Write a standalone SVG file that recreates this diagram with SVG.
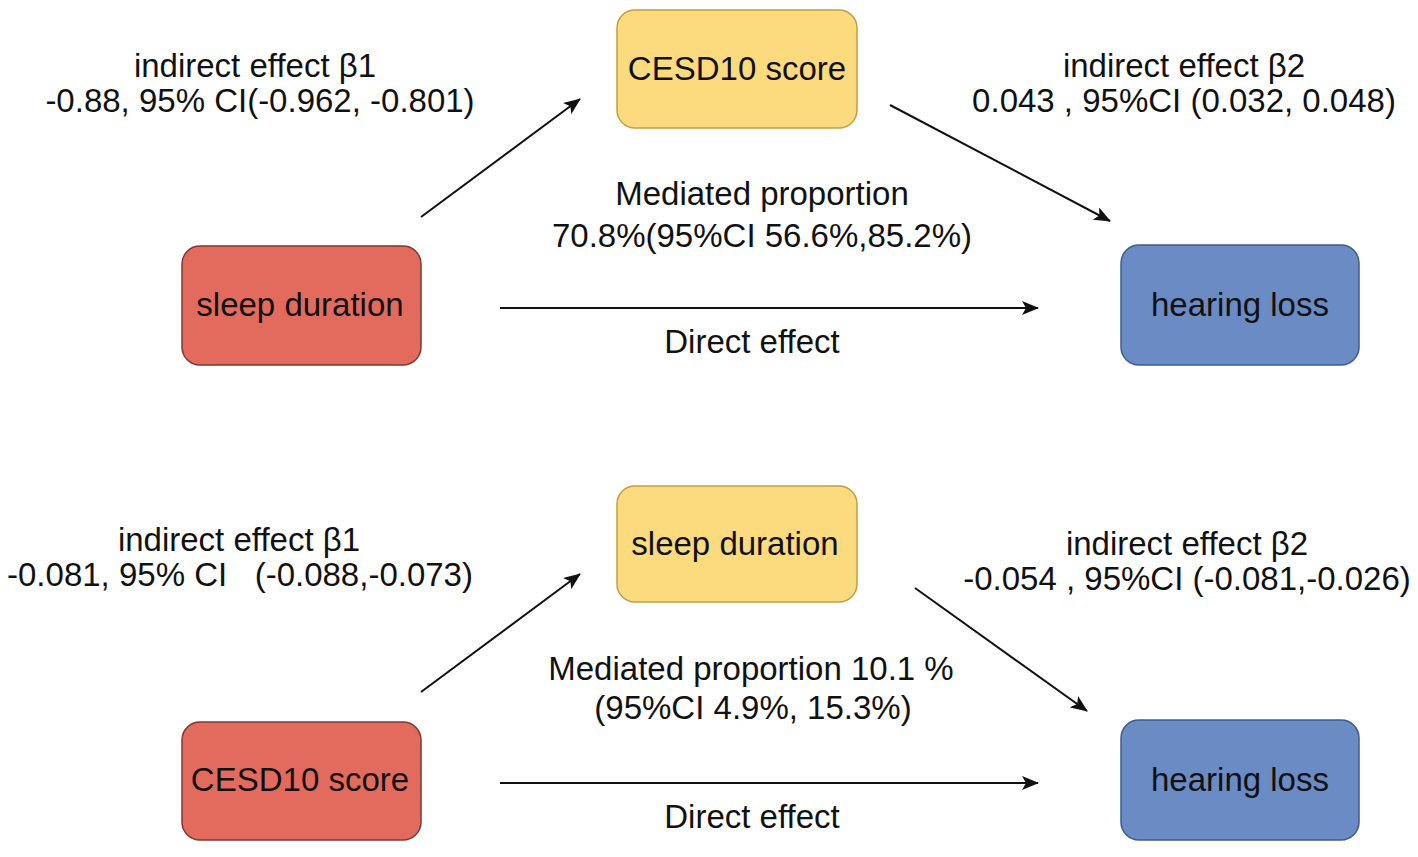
<svg xmlns="http://www.w3.org/2000/svg" width="1418" height="857" viewBox="0 0 1418 857">
<style>
text{font-family:"Liberation Sans",Arial,sans-serif;font-size:33px;fill:#111;text-anchor:middle;white-space:pre}
.red{fill:#E26B5D;stroke:#7E3A30;stroke-width:1.5}
.yel{fill:#FCDB7E;stroke:#C49D45;stroke-width:1.5}
.blu{fill:#6A8BC4;stroke:#3E5C8E;stroke-width:1.5}
.c line{stroke:#111;stroke-width:2;marker-end:url(#ah)}
</style>
<defs>
<marker id="ah" markerUnits="userSpaceOnUse" markerWidth="18" markerHeight="14" refX="16" refY="7" orient="auto">
<path d="M0,0 L17,7 L0,14 L4,7 Z" fill="#111"/>
</marker>
</defs>
<rect width="1418" height="857" fill="#fff"/>
<g id="top-sleep"><rect class="red" x="182" y="246" width="239" height="119" rx="18"/><text x="300" y="316">sleep duration</text></g>
<g id="top-cesd"><rect class="yel" x="617" y="10" width="240" height="118" rx="18"/><text x="737" y="80">CESD10 score</text></g>
<g id="top-hear"><rect class="blu" x="1121" y="245" width="238" height="120" rx="18"/><text x="1240" y="316">hearing loss</text></g>
<g id="bot-sleep"><rect class="yel" x="617" y="486" width="240" height="116" rx="18"/><text x="735" y="555">sleep duration</text></g>
<g id="bot-cesd"><rect class="red" x="182" y="722" width="239" height="118" rx="18"/><text x="300" y="791">CESD10 score</text></g>
<g id="bot-hear"><rect class="blu" x="1121" y="720" width="238" height="120" rx="18"/><text x="1240" y="791">hearing loss</text></g>
<g id="connectors" class="c">
<line x1="421" y1="217" x2="580" y2="99"/>
<line x1="890" y1="105" x2="1110" y2="221"/>
<line x1="500" y1="308" x2="1038" y2="308"/>
<line x1="421" y1="692" x2="580" y2="574"/>
<line x1="915" y1="588" x2="1087" y2="711"/>
<line x1="500" y1="783" x2="1038" y2="783"/>
</g>
<g id="labels">
<text x="255" y="77">indirect effect β1</text>
<text x="260" y="112">-0.88, 95% CI(-0.962, -0.801)</text>
<text x="1184" y="77">indirect effect β2</text>
<text x="1184" y="112">0.043 , 95%CI (0.032, 0.048)</text>
<text x="762" y="205">Mediated proportion</text>
<text x="762" y="247">70.8%(95%CI 56.6%,85.2%)</text>
<text x="752" y="353">Direct effect</text>
<text x="239" y="551">indirect effect β1</text>
<text x="240" y="586">-0.081, 95% CI   (-0.088,-0.073)</text>
<text x="1187" y="555">indirect effect β2</text>
<text x="1187" y="590">-0.054 , 95%CI (-0.081,-0.026)</text>
<text x="751" y="680">Mediated proportion 10.1 %</text>
<text x="753" y="719">(95%CI 4.9%, 15.3%)</text>
<text x="752" y="828">Direct effect</text>
</g>
</svg>
